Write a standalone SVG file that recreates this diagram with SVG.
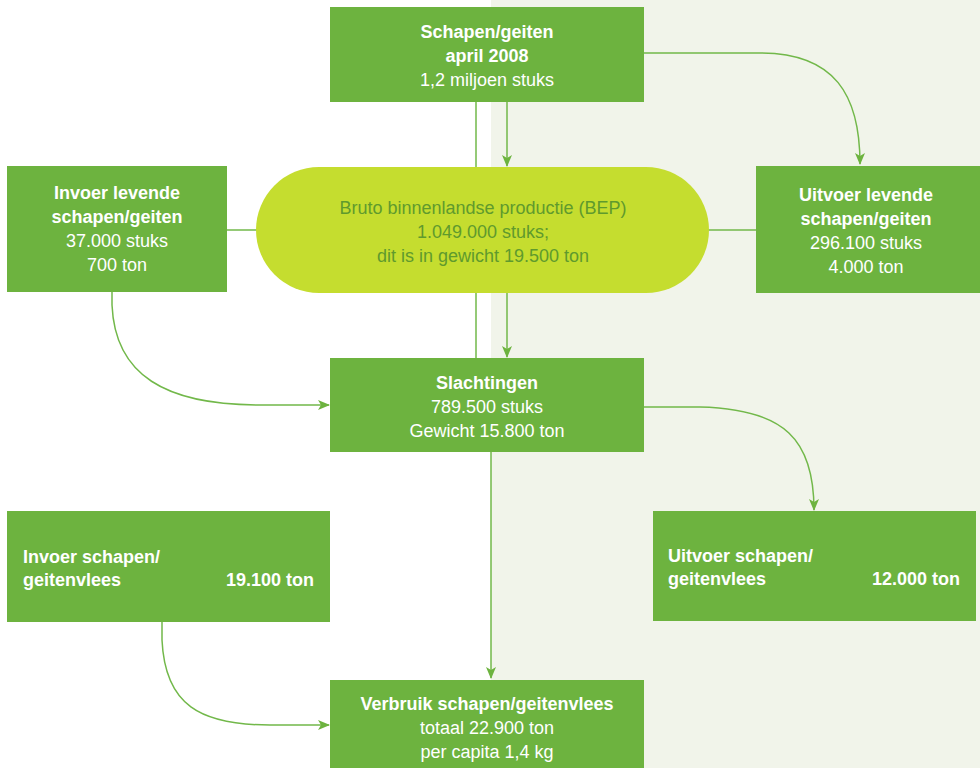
<svg xmlns="http://www.w3.org/2000/svg" width="980" height="768" viewBox="0 0 980 768">
<defs>
<style>
.box{fill:#6db33f}
.t{font-family:"Liberation Sans",Arial,sans-serif;font-size:18px;fill:#ffffff}
.b{font-weight:bold}
.c{text-anchor:middle}
.r{text-anchor:end}
.pt{font-family:"Liberation Sans",Arial,sans-serif;font-size:18px;fill:#5f9a2d;text-anchor:middle}
.ln{fill:none;stroke:#72b84a;stroke-width:1.5}
.ar{marker-end:url(#arr)}
</style>
<marker id="arr" viewBox="0 0 12 12" refX="11" refY="6" markerWidth="12" markerHeight="12" markerUnits="userSpaceOnUse" orient="auto">
<path d="M0,1 L12,6 L0,11 L3,6 z" fill="#6db33f"/>
</marker>
</defs>
<rect x="0" y="0" width="980" height="768" fill="#ffffff"/>
<rect x="491" y="0" width="489" height="768" fill="#f1f4ea"/>
<g id="connectors">
<line class="ln" x1="476" y1="102" x2="476" y2="168"/>
<line class="ln" x1="476" y1="292" x2="476" y2="358"/>
<line class="ln" x1="227" y1="230" x2="756" y2="230"/>
<line class="ln ar" x1="507" y1="102" x2="507" y2="166"/>
<line class="ln ar" x1="507" y1="293" x2="507" y2="357"/>
<line class="ln ar" x1="491" y1="452" x2="491" y2="678"/>
<path class="ln ar" d="M644,53 L760,53 C835,53 860,95 860,164"/>
<path class="ln ar" d="M112,292 L112,305 C115,375 165,405 260,405 L329,405"/>
<path class="ln ar" d="M644,407 L700,407 C785,409 814,440 814,510"/>
<path class="ln ar" d="M162,622 L162,640 C165,705 200,725 270,725 L329,725"/>
</g>
<g id="schapen">
<rect class="box" x="330" y="7" width="314" height="95"/>
<text class="t b c" x="487" y="38">Schapen/geiten</text>
<text class="t b c" x="487" y="62">april 2008</text>
<text class="t c" x="487" y="86">1,2 miljoen stuks</text>
</g>
<g id="invoer-levend">
<rect class="box" x="7" y="166" width="220" height="126"/>
<text class="t b c" x="117" y="199">Invoer levende</text>
<text class="t b c" x="117" y="223">schapen/geiten</text>
<text class="t c" x="117" y="247">37.000 stuks</text>
<text class="t c" x="117" y="271">700 ton</text>
</g>
<g id="bep">
<rect x="256" y="167" width="453" height="126" rx="63" ry="63" fill="#c5dd2f"/>
<text class="pt" x="483" y="214">Bruto binnenlandse productie (BEP)</text>
<text class="pt" x="483" y="238">1.049.000 stuks;</text>
<text class="pt" x="483" y="262">dit is in gewicht 19.500 ton</text>
</g>
<g id="uitvoer-levend">
<rect class="box" x="756" y="166" width="224" height="127"/>
<text class="t b c" x="866" y="201">Uitvoer levende</text>
<text class="t b c" x="866" y="225">schapen/geiten</text>
<text class="t c" x="866" y="249">296.100 stuks</text>
<text class="t c" x="866" y="273">4.000 ton</text>
</g>
<g id="slachtingen">
<rect class="box" x="330" y="358" width="314" height="94"/>
<text class="t b c" x="487" y="389">Slachtingen</text>
<text class="t c" x="487" y="413">789.500 stuks</text>
<text class="t c" x="487" y="437">Gewicht 15.800 ton</text>
</g>
<g id="invoer-vlees">
<rect class="box" x="7" y="511" width="323" height="111"/>
<text class="t b" x="23" y="563">Invoer schapen/</text>
<text class="t b" x="23" y="586">geitenvlees</text>
<text class="t b r" x="314" y="586">19.100 ton</text>
</g>
<g id="uitvoer-vlees">
<rect class="box" x="653" y="511" width="323" height="110"/>
<text class="t b" x="668" y="562">Uitvoer schapen/</text>
<text class="t b" x="668" y="585">geitenvlees</text>
<text class="t b r" x="960" y="585">12.000 ton</text>
</g>
<g id="verbruik">
<rect class="box" x="330" y="680" width="314" height="88"/>
<text class="t b c" x="487" y="710">Verbruik schapen/geitenvlees</text>
<text class="t c" x="487" y="734">totaal 22.900 ton</text>
<text class="t c" x="487" y="758">per capita 1,4 kg</text>
</g>
</svg>
